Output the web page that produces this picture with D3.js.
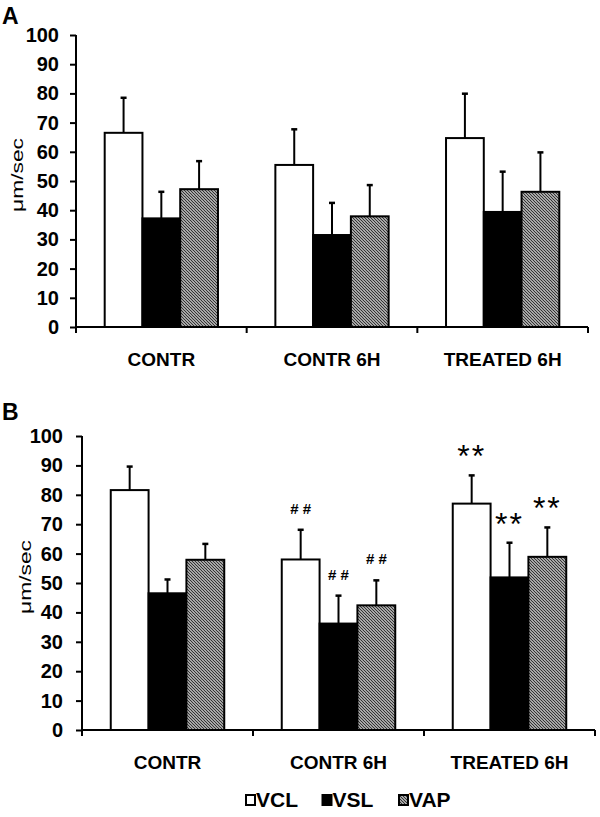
<!DOCTYPE html>
<html>
<head>
<meta charset="utf-8">
<script src="https://cdn.jsdelivr.net/npm/d3@7"></script>
<style>
  body { margin: 0; background: #fff; }
  text { font-family: "Liberation Sans", Arial, sans-serif; }
</style>
</head>
<body>
<script>
// categories and series
const categories = ["CONTR", "CONTR 6H", "TREATED 6H"];
const series = ["VCL", "VSL", "VAP"];
const yTicks = [0, 10, 20, 30, 40, 50, 60, 70, 80, 90, 100];

// panel A means and SD (upper whisker)
const vclA = [66.5, 55.5, 64.7];
const vslA = [37.2, 31.5, 39.4];
const vapA = [47.2, 37.9, 46.3];
const vclErrA = [12.0, 12.2, 15.2];
const vslErrA = [9.1, 11.0, 13.8];
const vapErrA = [9.6, 10.7, 13.5];

// panel B means and SD
const vclB = [81.6, 58.0, 77.0];
const vslB = [46.5, 36.2, 51.9];
const vapB = [57.9, 42.4, 58.9];
const vclErrB = [8.0, 10.1, 9.6];
const vslErrB = [4.7, 9.5, 11.8];
const vapErrB = [5.4, 8.5, 10.0];

// significance marks in panel B
const vclSigB = ["", "# #", "**"];
const vslSigB = ["", "# #", "**"];
const vapSigB = ["", "# #", "**"];

const svg = d3.select("body")
    .append("svg")
    .attr("width", 600)
    .attr("height", 817);

// hatch for VAP
const defs = svg.append("defs");
const pat = defs.append("pattern")
    .attr("id", "hatch")
    .attr("patternUnits", "userSpaceOnUse")
    .attr("width", 3)
    .attr("height", 3);
pat.append("rect").attr("width", 3).attr("height", 3).attr("fill", "#fff");
pat.append("path")
    .attr("d", "M-1,-1 L4,4 M-1,2 L1,4 M2,-1 L4,1")
    .attr("stroke", "#333")
    .attr("stroke-width", 1.25);

const fills = { VCL: "#fff", VSL: "#000", VAP: "url(#hatch)" };

function panel(opts) {
    const { left, right, top, bottom, label, labelY, means, errs, sigs, tickRight } = opts;

    const g = svg.append("g");

    const x0 = d3.scaleBand().domain(categories).range([left, right]).padding(0);
    const x1 = d3.scaleBand().domain(series).range([0, x0.bandwidth()])
        .paddingInner(0).paddingOuter(0.76);
    const y = d3.scaleLinear().domain([0, 100]).range([bottom, top]);

    // y axis
    const yAxis = g.append("g")
        .attr("transform", `translate(${left},0)`)
        .call(d3.axisLeft(y).tickValues(yTicks).tickSize(6).tickPadding(left - tickRight - 6));
    yAxis.select(".domain").attr("stroke-width", 2).attr("d", `M0,${top}V${bottom + 5}`);
    yAxis.selectAll(".tick line").attr("stroke-width", 2);
    yAxis.selectAll(".tick text")
        .attr("font-size", 20)
        .attr("font-weight", "bold")
        .attr("fill", "#000");

    // bars
    const rows = [];
    categories.forEach((c, i) => {
        series.forEach((s, j) => {
            rows.push({ cat: c, ser: s, v: means[j][i], e: errs[j][i], sig: sigs ? sigs[j][i] : "" });
        });
    });

    const bx = d => x0(d.cat) + x1(d.ser);
    const bw = x1.bandwidth();

    // error bars (upper only)
    g.selectAll("line.err")
        .data(rows)
        .enter()
        .append("line")
        .attr("class", "err")
        .attr("x1", d => bx(d) + bw / 2)
        .attr("x2", d => bx(d) + bw / 2)
        .attr("y1", d => y(d.v))
        .attr("y2", d => y(d.v + d.e))
        .attr("stroke", "#000")
        .attr("stroke-width", 2);
    g.selectAll("line.cap")
        .data(rows)
        .enter()
        .append("line")
        .attr("class", "cap")
        .attr("x1", d => bx(d) + bw / 2 - 3)
        .attr("x2", d => bx(d) + bw / 2 + 3)
        .attr("y1", d => y(d.v + d.e))
        .attr("y2", d => y(d.v + d.e))
        .attr("stroke", "#000")
        .attr("stroke-width", 2.5);

    g.selectAll("rect.bar")
        .data(rows)
        .enter()
        .append("rect")
        .attr("class", "bar")
        .attr("x", bx)
        .attr("y", d => y(d.v))
        .attr("width", bw)
        .attr("height", d => bottom - y(d.v))
        .attr("fill", d => fills[d.ser])
        .attr("stroke", "#000")
        .attr("stroke-width", 2);

    // significance marks
    g.selectAll("text.sig")
        .data(rows.filter(d => d.sig))
        .enter()
        .append("text")
        .attr("class", "sig")
        .attr("x", d => bx(d) + bw / 2)
        .attr("y", d => d.sig === "**" ? y(d.v + d.e) - 8 : y(d.v + d.e) - 16)
        .attr("text-anchor", "middle")
        .attr("font-size", d => d.sig === "**" ? 32 : 15)
        .attr("font-weight", d => d.sig === "**" ? "normal" : "bold")
        .attr("letter-spacing", d => d.sig === "**" ? 2 : 0)
        .text(d => d.sig);

    // x axis
    const xAxis = g.append("g")
        .attr("transform", `translate(0,${bottom})`)
        .call(d3.axisBottom(x0).tickSize(0).tickPadding(26));
    xAxis.select(".domain").attr("stroke-width", 2).attr("d", `M${left},0H${right}`);
    xAxis.selectAll(".tick text")
        .attr("font-size", 19)
        .attr("font-weight", "bold")
        .attr("fill", "#000");

    const bounds = categories.map(c => x0(c)).concat([right]);
    xAxis.selectAll("line.sep")
        .data(bounds)
        .enter()
        .append("line")
        .attr("class", "sep")
        .attr("x1", d => d).attr("x2", d => d)
        .attr("y1", 0).attr("y2", 6)
        .attr("stroke", "#000")
        .attr("stroke-width", 2);

    // y label
    const ly = (top + bottom) / 2 - 6;
    g.append("text")
        .attr("transform", `translate(${opts.yLabelX},${ly}) rotate(-90)`)
        .attr("text-anchor", "middle")
        .attr("font-size", 17)
        .attr("textLength", 74)
        .attr("lengthAdjust", "spacingAndGlyphs")
        .text("\u03bcm/sec");

    // panel letter
    g.append("text")
        .attr("x", 2)
        .attr("y", labelY)
        .attr("font-size", 23)
        .attr("font-weight", "bold")
        .text(label);
}

panel({
    left: 76, right: 588, top: 35, bottom: 327, tickRight: 59,
    label: "A", labelY: 24, yLabelX: 23,
    means: [vclA, vslA, vapA], errs: [vclErrA, vslErrA, vapErrA]
});

panel({
    left: 82, right: 595, top: 436, bottom: 730, tickRight: 63,
    label: "B", labelY: 420, yLabelX: 31,
    means: [vclB, vslB, vapB], errs: [vclErrB, vslErrB, vapErrB],
    sigs: [vclSigB, vslSigB, vapSigB]
});

// legend
const legend = svg.append("g").attr("transform", "translate(245,794)");
const legX = d3.scalePoint().domain(series).range([0, 153]);
const items = legend.selectAll("g.item")
    .data(series)
    .enter()
    .append("g")
    .attr("transform", d => `translate(${legX(d)},0)`);
items.append("rect")
    .attr("x", 1).attr("y", 1)
    .attr("width", 9).attr("height", 10)
    .attr("fill", d => fills[d])
    .attr("stroke", "#000")
    .attr("stroke-width", 2);
items.append("text")
    .attr("x", 11)
    .attr("y", 13)
    .attr("font-size", 21)
    .attr("font-weight", "bold")
    .text(d => d);
</script>
</body>
</html>
